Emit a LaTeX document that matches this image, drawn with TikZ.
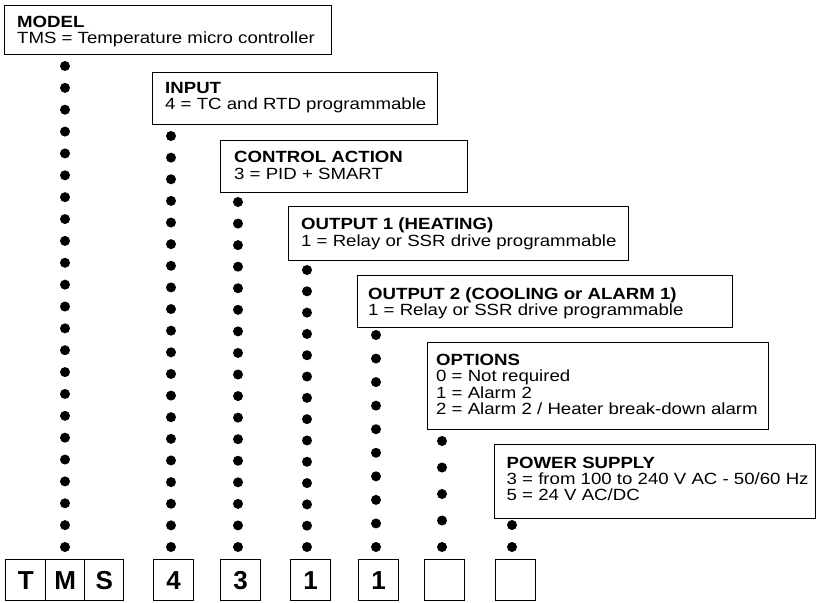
\documentclass[tikz,border=0pt]{standalone}
\usepackage{fontspec}
\setmainfont{Liberation Sans}[FakeStretch=1.15]
\newfontfamily\digitfont{Liberation Sans}
\usetikzlibrary{calc}
\begin{document}
\begin{tikzpicture}[x=1pt,y=-1pt,
  infobox/.style={draw, line width=1.2pt, anchor=north west, inner sep=0pt},
  infotext/.style={anchor=north west, inner sep=0pt, align=left,
    font=\fontsize{16.2}{16.4}\selectfont},
  digitbox/.style={draw, line width=1.4pt, anchor=north west, inner sep=0pt,
    minimum width=40pt, minimum height=41pt, font=\digitfont\bfseries\fontsize{26}{26}\selectfont},
  dotfill/.style={fill=black}]
\useasboundingbox (0,0) rectangle (816,602);

% information boxes
\node[infobox, minimum width=327pt, minimum height=49pt] (model) at (4,5) {};
\node[infotext] (modelT) at ($(model.north west)+(13,10.5)$)
  {\textbf{MODEL}\\TMS = Temperature micro controller};
\node[infobox, minimum width=285pt, minimum height=52pt] (input) at (152,72) {};
\node[infotext] (inputT) at ($(input.north west)+(13,10)$)
  {\textbf{INPUT}\\4 = TC and RTD programmable};
\node[infobox, minimum width=247pt, minimum height=52pt] (control) at (220,140) {};
\node[infotext] (controlT) at ($(control.north west)+(14,11.3)$)
  {\textbf{CONTROL ACTION}\\3 = PID + SMART};
\node[infobox, minimum width=340pt, minimum height=54pt] (out1) at (288,206) {};
\node[infotext] (out1T) at ($(out1.north west)+(13,11.8)$)
  {\textbf{OUTPUT 1 (HEATING)}\\1 = Relay or SSR drive programmable};
\node[infobox, minimum width=375pt, minimum height=52pt] (out2) at (357,275) {};
\node[infotext] (out2T) at ($(out2.north west)+(11,12.3)$)
  {\textbf{OUTPUT 2 (COOLING or ALARM 1)}\\1 = Relay or SSR drive programmable};
\node[infobox, minimum width=341pt, minimum height=87pt] (options) at (427,342) {};
\node[infotext] (optionsT) at ($(options.north west)+(9,12)$)
  {\textbf{OPTIONS}\\0 = Not required\\1 = Alarm 2\\2 = Alarm 2 / Heater break-down alarm};
\node[infobox, minimum width=321pt, minimum height=74pt] (power) at (494,444) {};
\node[infotext] (powerT) at ($(power.north west)+(12.5,12.5)$)
  {\textbf{POWER SUPPLY}\\3 = from 100 to 240 V AC - 50/60 Hz\\5 = 24 V AC/DC};

% code boxes
\node[digitbox] (cT) at (5,559) {T};
\node[digitbox, minimum width=39pt] (cM) at (45,559) {M};
\node[digitbox, minimum width=39pt] (cS) at (84,559) {S};
\node[digitbox] (c4) at (153,559) {4};
\node[digitbox] (c3) at (220,559) {3};
\node[digitbox] (c1a) at (290,559) {1};
\node[digitbox] (c1b) at (358,559) {1};
\node[digitbox] (ce1) at (424,559) {};
\node[digitbox] (ce2) at (495,559) {};

% dotted leaders: first and last dot of each column
\coordinate (mA) at (65,66);   \coordinate (mB) at (65,547);
\coordinate (iA) at (171,136); \coordinate (iB) at (171,547);
\coordinate (kA) at (238,202); \coordinate (kB) at (238,547);
\coordinate (aA) at (307,270); \coordinate (aB) at (307,547);
\coordinate (bA) at (376,335); \coordinate (bB) at (376,547);
\coordinate (oA) at (442,441); \coordinate (oB) at (442,547);
\coordinate (pA) at (512,525); \coordinate (pB) at (512,547);

\foreach \s/\e/\n in {mA/mB/22, iA/iB/19, kA/kB/16, aA/aB/13, bA/bB/9, oA/oB/4, pA/pB/1}{
  \foreach \i in {0,...,\n}{
    \fill[dotfill] ($(\s)!\i/\n!(\e)$) circle (5pt);
  }
}
\end{tikzpicture}
\end{document}
